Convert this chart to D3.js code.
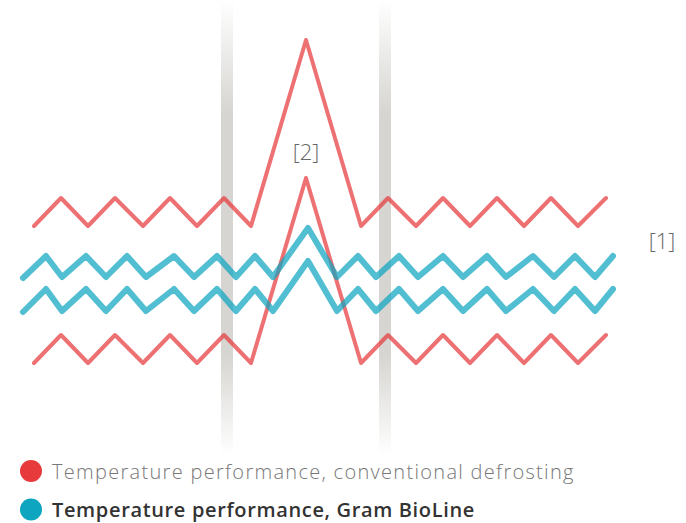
<!DOCTYPE html>
<html>
<head>
<meta charset="utf-8">
<script src="https://cdn.jsdelivr.net/npm/d3@7"></script>
<style>
    html, body { margin: 0; padding: 0; background: #fff; }
    svg { display: block; }
</style>
</head>
<body>
<div id="chart"></div>
<script>
"use strict";

/*
 * ============================================================================
 * Data (time in minutes, temperature in arbitrary degrees)
 * ============================================================================
 */

const redTime = [1.4, 4.1, 6.8, 9.5, 12.3, 15.0, 17.7, 20.4, 23.1, 28.6,
                 34.1, 36.8, 39.6, 42.3, 45.0, 47.7, 50.4, 53.1, 55.8, 58.6];
const redUpper = [21.4, 24.2, 21.4, 24.2, 21.4, 24.2, 21.4, 24.2, 21.4, 40.0,
                  21.4, 24.2, 21.4, 24.2, 21.4, 24.2, 21.4, 24.2, 21.4, 24.2];
const redLower = [7.7, 10.5, 7.7, 10.5, 7.7, 10.5, 7.7, 10.5, 7.7, 26.2,
                  7.7, 10.5, 7.7, 10.5, 7.7, 10.5, 7.7, 10.5, 7.7, 10.5];

const blueTime = [0.3, 2.6, 4.2, 6.6, 8.6, 10.7, 12.6, 15.4, 17.4, 19.7,
                  21.6, 23.5, 25.3, 28.8, 31.7, 33.8, 35.6, 37.9, 39.8, 42.3,
                  44.3, 46.7, 48.6, 51.3, 53.4, 55.5, 57.5, 59.3];
const blueUpper = [16.2, 18.4, 16.3, 18.4, 16.3, 18.4, 16.3, 18.4, 16.3, 18.4,
                   16.3, 18.4, 16.3, 21.2, 16.3, 18.4, 16.3, 18.4, 16.3, 18.4,
                   16.3, 18.4, 16.3, 18.4, 16.3, 18.4, 16.3, 18.4];
const blueLower = [12.8, 15.1, 12.9, 15.1, 12.9, 15.1, 12.9, 15.1, 12.9, 15.1,
                   12.9, 15.1, 12.9, 17.9, 12.9, 15.1, 12.9, 15.1, 12.9, 15.1,
                   12.9, 15.1, 12.9, 15.1, 12.9, 15.1, 12.9, 15.1];

// Door openings (vertical bands)
const markers = [20.7, 36.5];

const annotations = [
    { text: "[2]", t: 28.6, v: 28.0 },
    { text: "[1]", t: 64.2, v: 19.1 },
];

const legend = [
    { label: "Temperature performance, conventional defrosting", color: "#e63a3c" },
    { label: "Temperature performance, Gram BioLine", color: "#0ea5c0" },
];


/*
 * ============================================================================
 * Plot
 * ============================================================================
 */

const WIDTH = 686;
const HEIGHT = 523;

const svg = d3.select("#chart")
  .append("svg")
    .attr("width", WIDTH)
    .attr("height", HEIGHT);

const xscale = d3.scaleLinear()
    .domain([0, 60])
    .range([20, 620]);

const yscale = d3.scaleLinear()
    .domain([0, 40])
    .range([440, 40]);

// Fading gradient for the bands
const grad = svg.append("defs")
  .append("linearGradient")
    .attr("id", "band")
    .attr("x1", 0).attr("y1", 0)
    .attr("x2", 0).attr("y2", 1);
grad.append("stop").attr("offset", "0%").attr("stop-color", "#d6d5d1").attr("stop-opacity", 0);
grad.append("stop").attr("offset", "25%").attr("stop-color", "#d6d5d1").attr("stop-opacity", 1);
grad.append("stop").attr("offset", "78%").attr("stop-color", "#d6d5d1").attr("stop-opacity", 1);
grad.append("stop").attr("offset", "100%").attr("stop-color", "#d6d5d1").attr("stop-opacity", 0);

svg.selectAll(".band")
    .data(markers)
  .enter().append("rect")
    .attr("class", "band")
    .attr("x", d => xscale(d) - 6)
    .attr("y", 0)
    .attr("width", 12)
    .attr("height", 455)
    .attr("fill", "url(#band)");

const line = d3.line()
    .x(d => xscale(d[0]))
    .y(d => yscale(d[1]));

const series = [
    { t: redTime, v: redUpper, color: legend[0].color, width: 4 },
    { t: redTime, v: redLower, color: legend[0].color, width: 4 },
    { t: blueTime, v: blueUpper, color: legend[1].color, width: 6 },
    { t: blueTime, v: blueLower, color: legend[1].color, width: 6 },
];

series.forEach(s => {
    svg.append("path")
        .datum(s.t.map((t, i) => [t, s.v[i]]))
        .attr("d", line)
        .attr("fill", "none")
        .attr("stroke", s.color)
        .attr("stroke-opacity", 0.72)
        .attr("stroke-width", s.width)
        .attr("stroke-linejoin", "round")
        .attr("stroke-linecap", "round");
});

svg.selectAll(".note")
    .data(annotations)
  .enter().append("text")
    .attr("class", "note")
    .attr("x", d => xscale(d.t))
    .attr("y", d => yscale(d.v))
    .attr("text-anchor", "middle")
    .attr("font-family", "Open Sans")
    .attr("font-weight", 300)
    .attr("font-size", 22)
    .attr("fill", "#666")
    .text(d => d.text);

// Legend
const items = svg.selectAll(".legend")
    .data(legend)
  .enter().append("g")
    .attr("class", "legend")
    .attr("transform", (d, i) => `translate(31,${471 + i * 38.5})`);

items.append("circle")
    .attr("r", 11)
    .attr("fill", d => d.color);

items.append("text")
    .attr("x", 21)
    .attr("y", 7.5)
    .attr("font-family", "Open Sans")
    .attr("font-size", 20)
    .attr("font-weight", (d, i) => i === 0 ? 300 : 600)
    .attr("fill", (d, i) => i === 0 ? "#777" : "#333")
    .attr("letter-spacing", (d, i) => i === 0 ? 1.3 : 0.65)
    .text(d => d.label);
</script>
</body>
</html>
